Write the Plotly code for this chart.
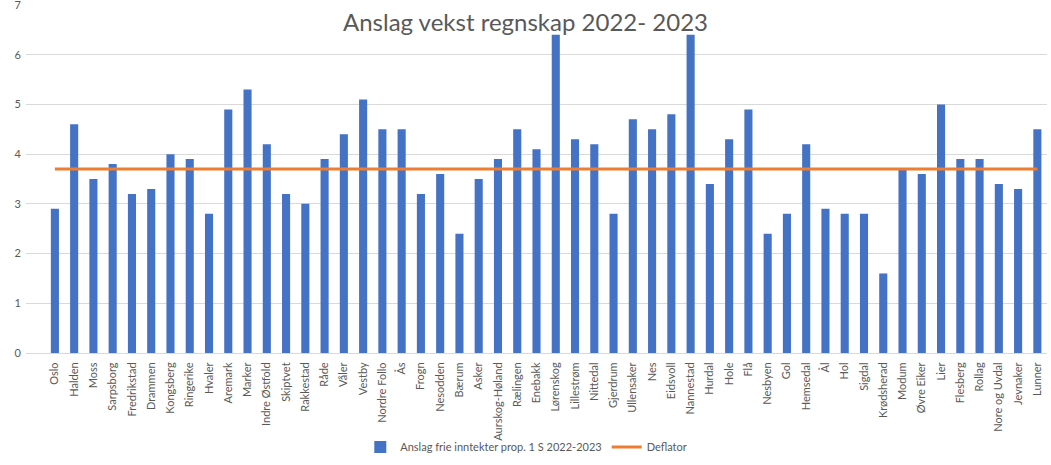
import plotly.graph_objects as go

kommuner = [
    'Oslo', 'Halden', 'Moss', 'Sarpsborg', 'Fredrikstad', 'Drammen', 'Kongsberg',
    'Ringerike', 'Hvaler', 'Aremark', 'Marker', 'Indre Østfold', 'Skiptvet',
    'Rakkestad', 'Råde', 'Våler', 'Vestby', 'Nordre Follo', 'Ås', 'Frogn',
    'Nesodden', 'Bærum', 'Asker', 'Aurskog-Høland', 'Rælingen', 'Enebakk',
    'Lørenskog', 'Lillestrøm', 'Nittedal', 'Gjerdrum', 'Ullensaker', 'Nes',
    'Eidsvoll', 'Nannestad', 'Hurdal', 'Hole', 'Flå', 'Nesbyen', 'Gol',
    'Hemsedal', 'Ål', 'Hol', 'Sigdal', 'Krødsherad', 'Modum', 'Øvre Eiker',
    'Lier', 'Flesberg', 'Rollag', 'Nore og Uvdal', 'Jevnaker', 'Lunner',
]
anslag = [
    2.9, 4.6, 3.5, 3.8, 3.2, 3.3, 4.0, 3.9, 2.8, 4.9, 5.3, 4.2, 3.2, 3.0, 3.9,
    4.4, 5.1, 4.5, 4.5, 3.2, 3.6, 2.4, 3.5, 3.9, 4.5, 4.1, 6.4, 4.3, 4.2, 2.8,
    4.7, 4.5, 4.8, 6.4, 3.4, 4.3, 4.9, 2.4, 2.8, 4.2, 2.9, 2.8, 2.8, 1.6, 3.7,
    3.6, 5.0, 3.9, 3.9, 3.4, 3.3, 4.5,
]
deflator = [3.7] * len(kommuner)

fig = go.Figure()
fig.add_trace(go.Bar(
    name='Anslag frie inntekter prop. 1 S 2022-2023',
    x=kommuner,
    y=anslag,
    marker=dict(color='#4472C4', line=dict(width=0)),
))
fig.add_trace(go.Scatter(
    name='Deflator',
    x=kommuner,
    y=deflator,
    mode='lines',
    line=dict(color='#ED7D31', width=3),
))

fig.update_layout(
    width=1051, height=465,
    margin=dict(l=26, r=4, t=5, b=108),
    paper_bgcolor='white', plot_bgcolor='white',
    font=dict(family='Lato', color='#595959', size=11),
    bargap=0.58,
    title=dict(
        text='Anslag vekst regnskap 2022- 2023',
        x=0.5, xanchor='center', xref='container',
        y=0.95, yanchor='middle', yref='paper',
        font=dict(size=24, color='#595959', family='Lato'),
    ),
    legend=dict(
        orientation='h', x=0.49, xanchor='center',
        y=-0.27, yanchor='middle',
        font=dict(size=11), bgcolor='rgba(0,0,0,0)',
    ),
    showlegend=True,
)
# tom plass til venstre som i Excel-figuren
fig.update_xaxes(
    range=[-1.5, 51.5],
    tickangle=-90, showgrid=False, showline=True, automargin=False,
    linecolor='#d9d9d9', ticks='', tickfont=dict(size=11), ticklabelstandoff=4,
)
fig.update_yaxes(
    range=[0, 7], dtick=1, showgrid=True, gridcolor='#d9d9d9', automargin=False,
    zeroline=False, ticks='', tickfont=dict(size=11), ticklabeloverflow='allow',
    ticklabelstandoff=4,
)

fig.write_html("out.html", config={'displayModeBar': False},
               post_script="document.body.style.margin='0';")
